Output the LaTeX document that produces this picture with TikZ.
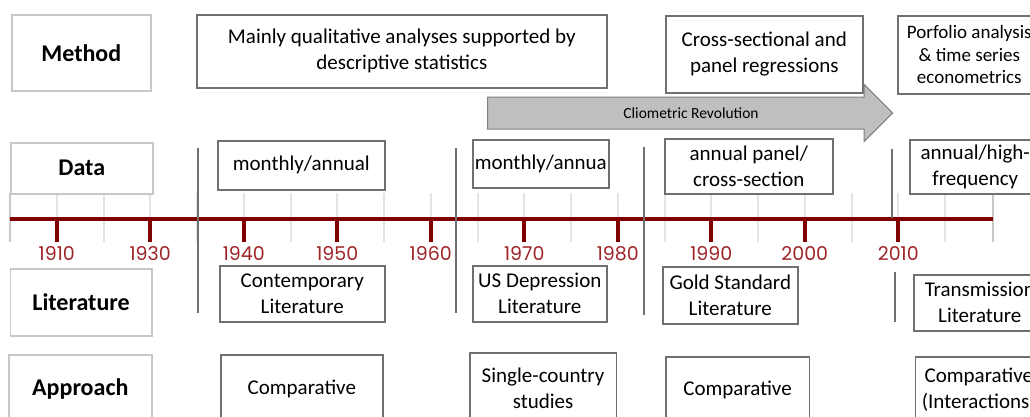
\documentclass[tikz,border=0pt]{standalone}
\usepackage{fontspec}
\setmainfont{Carlito}
\newfontfamily\yearfont{Poppins}
\usepackage{xcolor}
\usepackage{tikz}
\usetikzlibrary{shapes.arrows}
\definecolor{axisred}{RGB}{128,0,0}
\definecolor{yearred}{RGB}{158,36,40}
\definecolor{boxgray}{RGB}{112,112,112}
\definecolor{headgray}{RGB}{200,200,200}
\definecolor{gridgray}{RGB}{228,228,228}
\definecolor{arrowgray}{RGB}{191,191,191}
\tikzset{
     headbox/.style={
           rectangle,
           draw=headgray, line width=1.6pt,
           inner sep=0pt,
           anchor=north west,
           font=\fontsize{24}{29}\selectfont\bfseries,
           text centered,
           },
     block/.style={
           rectangle,
           draw=boxgray, line width=1.6pt,
           inner sep=0pt,
           anchor=north west,
           align=center,
           font=\fontsize{21}{26}\selectfont,
           },
     yearlabel/.style={
           %rectangle,
           %draw=black,
           inner sep=0pt,
           text=yearred,
           font=\yearfont\fontsize{19}{21}\selectfont,
           },
     cliorev/.style={
           single arrow,
           single arrow head extend=12.5pt,
           fill=arrowgray, draw=gray, line width=1pt,
           text height=11pt, text depth=4pt,
           inner ysep=8pt,
           },
}

\begin{document}
\begin{tikzpicture}[x=1pt,y=-1pt]
	\clip (0,0) rectangle (1030,416);
	\fill[white] (0,0) rectangle (1030,416);
	\tikzset{gridline/.style={gridgray,line width=2pt},
	         divider/.style={boxgray,line width=1.5pt}};

	%timeline
	\foreach \i in {1,...,20}
		\draw[gridline] (10+46.75*\i,193) -- (10+46.75*\i,242);
	\draw[gridline, headgray] (10,193) -- (10,242);
	\draw[gridline, headgray] (993,193) -- (993,242);
	\coordinate (axisl) at (10,219);
	\coordinate (axisr) at (993,219);
	\path[axisred, line width=3.5pt] (axisl) edge (axisr);
	\foreach \yr [count=\k from 0] in {1910,1930,1940,1950,1960,1970,1980,1990,2000,2010} {
		\coordinate (t\yr) at (56.75+93.5*\k,219);
		\draw[axisred, line width=4pt] (t\yr) -- ++(0,23);
		\node[yearlabel] (y\yr) at (56.75+93.5*\k,254) {\yr};
	}

	%method row
	\node[headbox, minimum width=139pt, minimum height=76pt] (m0) at (11,14) {Method};
	\node[block, minimum width=410pt, minimum height=73pt] (m1) at (196,14)
		{Mainly qualitative analyses supported by\\ descriptive statistics};
	\node[block, minimum width=197pt, minimum height=77pt] (m2) at (665,15)
		{Cross-sectional and\\ panel regressions};
	\node[block, minimum width=143pt, minimum height=78pt, font=\fontsize{19}{22.5}\selectfont] (m3) at (897,15)
		{Porfolio analysis\\ \& time series\\ econometrics};

	\node[cliorev, anchor=west, minimum height=405pt,
		label={[font=\fontsize{15.5}{18}\selectfont, xshift=9pt]center:Cliometric Revolution}] (clio) at (487,113) {};

	%data row
	\node[headbox, minimum width=142pt, minimum height=51pt] (d0) at (10,142) {Data};
	\node[block, minimum width=167pt, minimum height=49pt] (d1) at (217,140) {monthly/annual};
	\node[block, minimum width=136pt, minimum height=48pt] (d2) at (472,139) {monthly/annua};
	\node[block, minimum width=168pt, minimum height=55pt] (d3) at (664,138)
		{annual panel/\\ cross-section};
	\node[block, minimum width=131pt, minimum height=54pt] (d4) at (909,139)
		{annual/high-\\ frequency};

	%literature row
	\node[headbox, minimum width=141.5pt, minimum height=67pt] (l0) at (9.5,268) {Literature};
	\node[block, minimum width=165pt, minimum height=56pt] (l1) at (219,265)
		{Contemporary\\ Literature};
	\node[block, minimum width=134pt, minimum height=56pt] (l2) at (472,265)
		{US Depression\\ Literature};
	\node[block, minimum width=135pt, minimum height=57pt] (l3) at (662,266)
		{Gold Standard\\ Literature};
	\node[block, minimum width=132pt, minimum height=56pt] (l4) at (913,274)
		{Transmission\\ Literature};

	%approach row
	\node[headbox, minimum width=143pt, minimum height=68pt] (a0) at (8,354) {Approach};
	\node[block, minimum width=162pt, minimum height=68pt] (a1) at (220,354) {Comparative};
	\node[block, minimum width=146.5pt, minimum height=70pt] (a2) at (469,352)
		{Single-country\\ studies};
	\node[block, minimum width=143.5pt, minimum height=66pt] (a3) at (665,356) {Comparative};
	\node[block, minimum width=127pt, minimum height=66pt] (a4) at (914.5,356)
		{Comparative\\ (Interactions)};

	%period dividers
	\draw[divider] (198,148) -- (198,313);
	\draw[divider] (456,148) -- (456,313);
	\draw[divider] (644,147) -- (644,315);
	\draw[divider] (892,149) -- (892,218);
	\draw[divider] (895,272) -- (895,322);

\end{tikzpicture}
\end{document}
